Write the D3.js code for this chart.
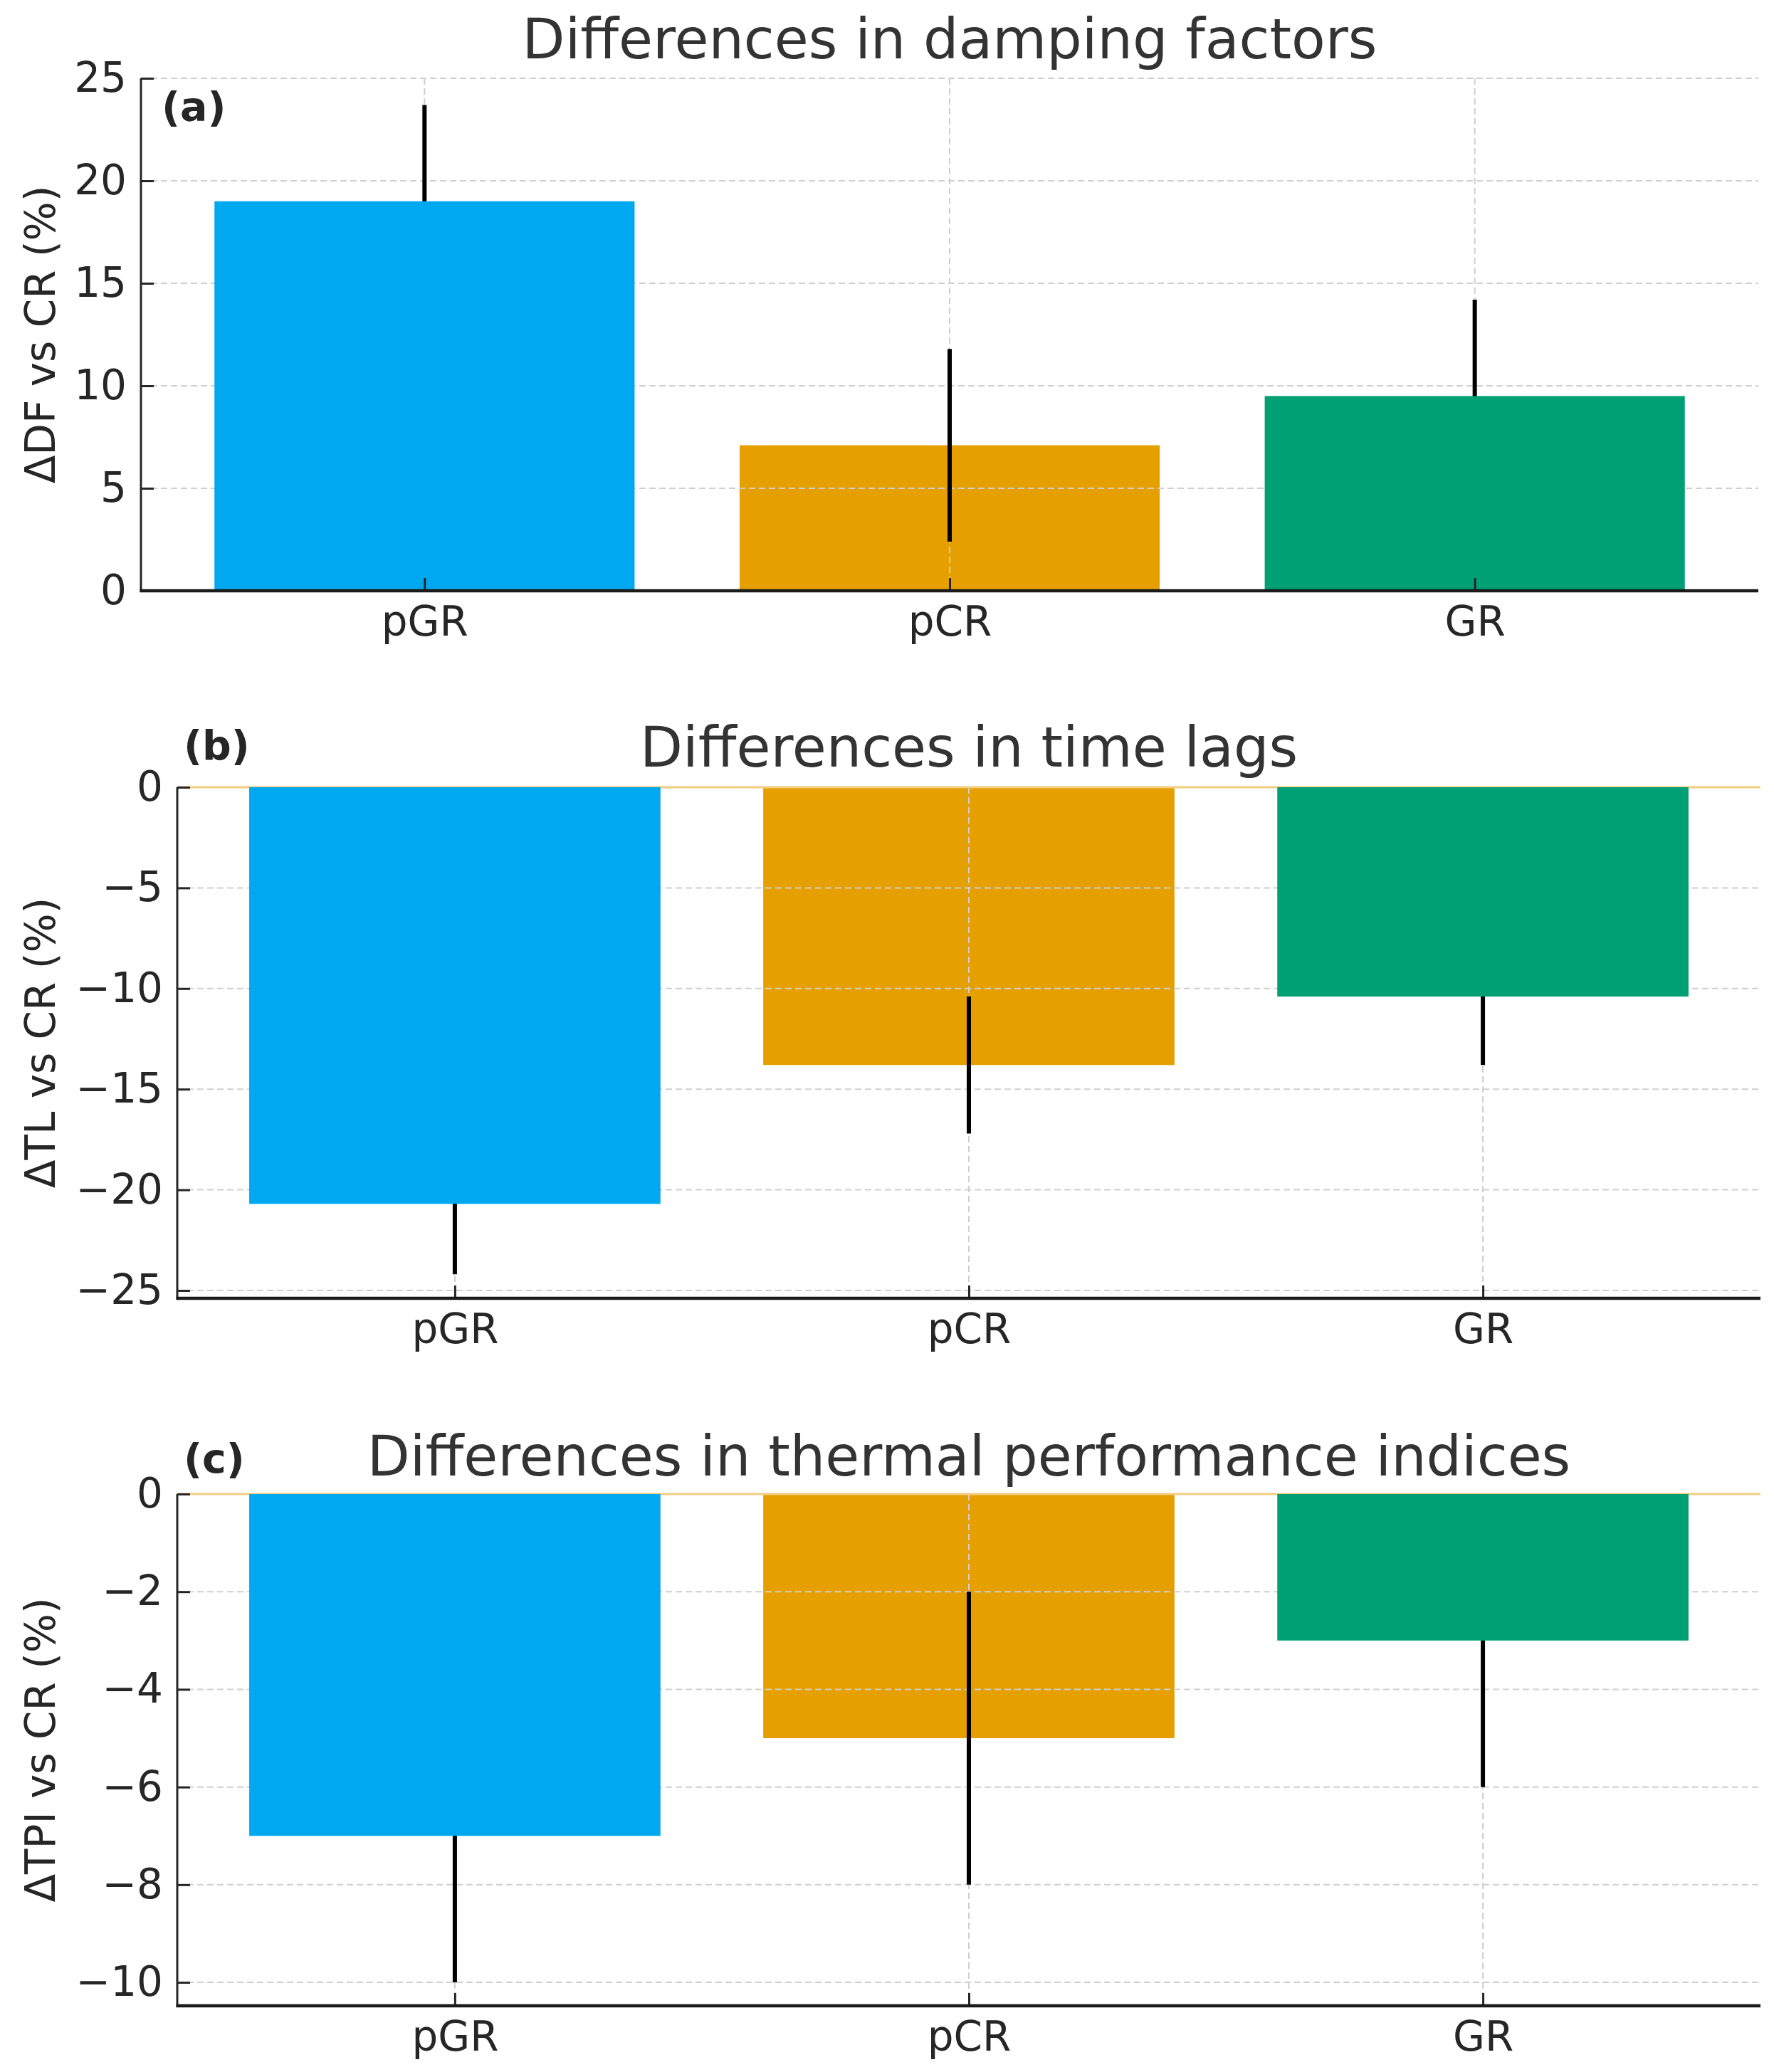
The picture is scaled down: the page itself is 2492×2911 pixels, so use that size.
<!DOCTYPE html>
<html>
<head>
<meta charset="utf-8">
<script src="https://d3js.org/d3.v7.min.js"></script>
<style>
  body { margin: 0; background: #fff; }
  text { font-family: "DejaVu Sans", sans-serif; }
</style>
</head>
<body>
<svg id="chart" width="2492" height="2911"></svg>
<script>
// categories and colours
var categories = ["pGR", "pCR", "GR"];
var barColors = ["#00A8F0", "#E5A000", "#009F74"];
// pCR bar sits under the grid and error bars, the others over them
var barOnTop = [true, false, true];

// (a) damping factors
var dfValues = [19.0, 7.1, 9.5];
var dfErrors = [4.7, 4.7, 4.7];
var dfTicks = [0, 5, 10, 15, 20, 25];

// (b) time lags
var tlValues = [-20.7, -13.8, -10.4];
var tlErrors = [3.5, 3.4, 3.4];
var tlTicks = [0, -5, -10, -15, -20, -25];

// (c) thermal performance indices
var tpiValues = [-7, -5, -3];
var tpiErrors = [3, 3, 3];
var tpiTicks = [0, -2, -4, -6, -8, -10];

var panels = [
  { tag: "(a)", title: "Differences in damping factors", ylabel: "\u0394DF vs CR (%)",
    values: dfValues, errors: dfErrors, ticks: dfTicks, domain: [0, 25],
    left: 198, right: 2470, top: 110, bottom: 830, titleY: 82,
    tagX: 227, tagY: 170, zeroLine: false },
  { tag: "(b)", title: "Differences in time lags", ylabel: "\u0394TL vs CR (%)",
    values: tlValues, errors: tlErrors, ticks: tlTicks, domain: [-25.39, 0],
    left: 249, right: 2473, top: 1106, bottom: 1824, titleY: 1077,
    tagX: 258, tagY: 1067, zeroLine: true },
  { tag: "(c)", title: "Differences in thermal performance indices", ylabel: "\u0394TPI vs CR (%)",
    values: tpiValues, errors: tpiErrors, ticks: tpiTicks, domain: [-10.48, 0],
    left: 249, right: 2473, top: 2099, bottom: 2818, titleY: 2073,
    tagX: 258, tagY: 2069, zeroLine: true }
];

var svg = d3.select("#chart");
var fmt = function(d) { return d < 0 ? "\u2212" + Math.abs(d) : String(d); };

panels.forEach(function(p) {
  var g = svg.append("g");
  var x = d3.scaleLinear().domain([-0.54, 2.54]).range([p.left, p.right]);
  var y = d3.scaleLinear().domain(p.domain).range([p.bottom, p.top]);
  var bw = x(0.4) - x(-0.4);
  var rows = categories.map(function(c, i) {
    return { cat: c, i: i, v: p.values[i], e: p.errors[i], color: barColors[i], onTop: barOnTop[i] };
  });

  function drawBars(sel) {
    g.selectAll(null).data(sel).enter().append("rect")
      .attr("x", function(d) { return x(d.i) - bw / 2; })
      .attr("width", bw)
      .attr("y", function(d) { return y(Math.max(0, d.v)); })
      .attr("height", function(d) { return Math.abs(y(d.v) - y(0)); })
      .attr("fill", function(d) { return d.color; });
  }

  drawBars(rows.filter(function(d) { return !d.onTop; }));

  // grid
  g.selectAll(null).data(p.ticks).enter().append("line")
    .attr("x1", p.left).attr("x2", p.right)
    .attr("y1", function(d) { return y(d); }).attr("y2", function(d) { return y(d); })
    .attr("stroke", "#cfcfcf").attr("stroke-width", 2).attr("stroke-dasharray", "9,5");
  g.selectAll(null).data(rows).enter().append("line")
    .attr("x1", function(d) { return x(d.i); }).attr("x2", function(d) { return x(d.i); })
    .attr("y1", p.top).attr("y2", p.bottom)
    .attr("stroke", "#cfcfcf").attr("stroke-width", 2).attr("stroke-dasharray", "9,5");

  if (p.zeroLine) {
    g.append("line").attr("x1", p.left).attr("x2", p.right)
      .attr("y1", y(0)).attr("y2", y(0))
      .attr("stroke", "#F3CD7E").attr("stroke-width", 3);
  }

  // error bars
  g.selectAll(null).data(rows).enter().append("line")
    .attr("x1", function(d) { return x(d.i); }).attr("x2", function(d) { return x(d.i); })
    .attr("y1", function(d) { return y(d.v - d.e); })
    .attr("y2", function(d) { return y(d.v + d.e); })
    .attr("stroke", "#000").attr("stroke-width", 6);

  drawBars(rows.filter(function(d) { return d.onTop; }));

  // axes
  var yAxis = d3.axisLeft(y).tickValues(p.ticks).tickFormat(fmt).tickSize(-18).tickPadding(20);
  var ya = g.append("g").attr("transform", "translate(" + p.left + ",0)").call(yAxis);
  var xAxis = d3.axisBottom(x).tickValues([0, 1, 2])
    .tickFormat(function(d) { return categories[d]; }).tickSize(-18).tickPadding(22);
  var xa = g.append("g").attr("transform", "translate(0," + p.bottom + ")").call(xAxis);

  [ya, xa].forEach(function(a) {
    a.selectAll(".tick line").attr("stroke", "#262626").attr("stroke-width", 3);
    a.selectAll(".tick text").attr("fill", "#262626").style("font-size", "58px")
      .style("font-family", "DejaVu Sans");
  });
  ya.select(".domain").remove();
  xa.select(".domain").remove();
  g.append("line").attr("x1", p.left).attr("x2", p.left)
    .attr("y1", p.top).attr("y2", p.bottom + 2)
    .attr("stroke", "#262626").attr("stroke-width", 3);
  g.append("line").attr("x1", p.left - 1.5).attr("x2", p.right)
    .attr("y1", p.bottom).attr("y2", p.bottom)
    .attr("stroke", "#1a1a1a").attr("stroke-width", 4.5);

  // texts
  g.append("text").attr("x", (p.left + p.right) / 2).attr("y", p.titleY)
    .attr("text-anchor", "middle").attr("fill", "#333")
    .style("font-size", "78px").text(p.title);
  g.append("text").attr("x", p.tagX).attr("y", p.tagY)
    .attr("fill", "#262626").style("font-size", "57px").style("font-weight", "bold")
    .text(p.tag);
  g.append("text")
    .attr("transform", "translate(" + 77 + "," + ((p.top + p.bottom) / 2) + ") rotate(-90)")
    .attr("text-anchor", "middle").attr("fill", "#262626")
    .style("font-size", "58px").text(p.ylabel);
});
</script>
</body>
</html>
